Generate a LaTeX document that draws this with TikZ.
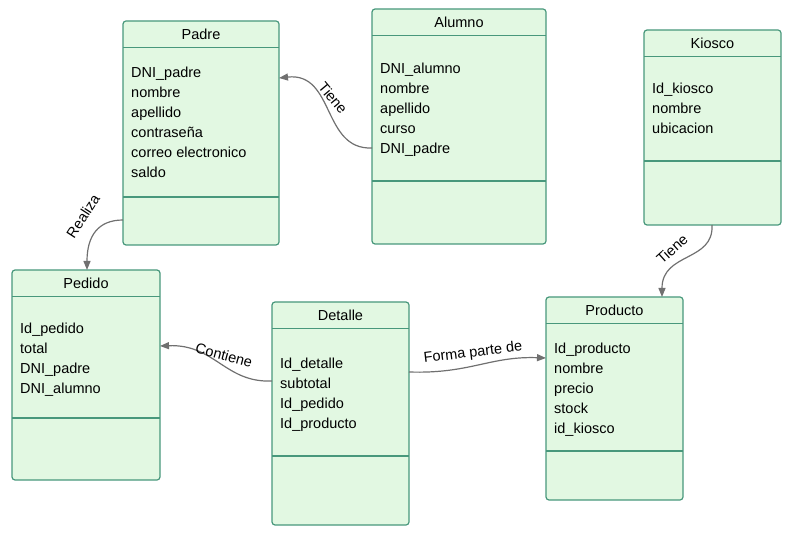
\documentclass[tikz,border=0pt]{standalone}
\usepackage{fontspec}
\setmainfont{Liberation Sans}
\usetikzlibrary{arrows.meta,calc}

\definecolor{borde}{RGB}{72,152,124}
\definecolor{relleno}{RGB}{226,248,226}
\definecolor{flecha}{RGB}{112,112,112}

% #1 nombre, #2 x, #3 y, #4 ancho, #5 alto, #6 titulo, #7 primer campo, #8 separador, #9 campos
\newcommand{\tabla}[9]{
  \node[clase, minimum width=#4pt, minimum height=#5pt] (#1) at (#2,#3) {};
  \node[texto] (#1-t) at ($(#1.north)+(0,13.5)$) {#6};
  \draw[linea] ($(#1.north west)+(0,26.5)$) -- ($(#1.north east)+(0,26.5)$);
  \draw[linea] ($(#1.north west)+(0,#8)$) -- ($(#1.north east)+(0,#8)$);
  \foreach \a [count=\i] in {#9}
    \node[texto, anchor=west] (#1-\i) at ($(#1.north west)+(8,#7+20*\i-20)$) {\a};
}

\begin{document}
\begin{tikzpicture}[x=1pt, y=-1pt,
    clase/.style = {draw=borde, fill=relleno, line width=1.2pt, rounded corners=3pt,
                    anchor=north west, inner sep=0pt, outer sep=0pt},
    linea/.style = {draw=borde, line width=1.2pt},
    texto/.style = {inner sep=0pt, text height=10pt, text depth=0pt,
                    font=\fontsize{14.5}{17}\selectfont},
    etiqueta/.style = {inner sep=1pt, font=\fontsize{14.5}{17}\selectfont},
    rel/.style = {draw=flecha, line width=1.2pt, -{Triangle[length=9pt, width=7pt]}}]
  \useasboundingbox (0,0) rectangle (803,553);

  \tabla{padre}{123}{21}{156}{224}{Padre}{52}{176}%
    {DNI\_padre, nombre, apellido, contraseña, correo electronico, saldo}
  \tabla{alumno}{372}{9}{174}{235}{Alumno}{60}{172}%
    {DNI\_alumno, nombre, apellido, curso, DNI\_padre}
  \tabla{kiosco}{644}{30}{137}{195}{Kiosco}{59}{131}%
    {Id\_kiosco, nombre, ubicacion}
  \tabla{pedido}{12}{270}{148}{210}{Pedido}{58}{148}%
    {Id\_pedido, total, DNI\_padre, DNI\_alumno}
  \tabla{detalle}{272}{302}{137}{223}{Detalle}{61}{154}%
    {Id\_detalle, subtotal, Id\_pedido, Id\_producto}
  \tabla{producto}{546}{297}{137}{203}{Producto}{51}{154}%
    {Id\_producto, nombre, precio, stock, id\_kiosco}

  % relaciones
  \draw[rel] (alumno.west |- 0,148) .. controls (322,150) and (335,72) .. (padre.east |- 0,78);
  \draw[rel] (padre.west |- 0,220) .. controls (98,220) and (87,236) .. (pedido.north -| 87,0);
  \draw[rel] (kiosco.south -| 712,0) .. controls (714,262) and (662,252) .. (producto.north -| 662,0);
  \draw[rel] (detalle.west |- 0,381) .. controls (225,383) and (215,344) .. (pedido.east |- 0,346);
  \draw[rel] (detalle.east |- 0,372) .. controls (470,374) and (490,356) .. (producto.west |- 0,358);

  \node[etiqueta, rotate=-50] (l-tiene) at (333,98) {Tiene};
  \node[etiqueta, rotate=57] (l-realiza) at (83,216) {Realiza};
  \node[etiqueta, rotate=42] (l-tiene2) at (672,249) {Tiene};
  \node[etiqueta, rotate=-15] (l-contiene) at (224,355) {Contiene};
  \node[etiqueta, rotate=7] (l-forma) at (473,353) {Forma parte de};
\end{tikzpicture}
\end{document}
